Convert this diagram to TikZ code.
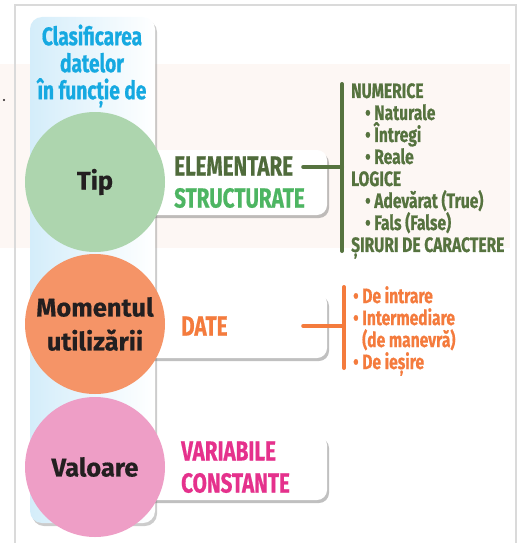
\documentclass[tikz,border=0pt]{standalone}
\usepackage{fontspec}
\setmainfont{Fira Sans}[FakeBold=0.5]
\newfontfamily\cond{Fira Sans}[FakeStretch=0.75, FakeBold=0.6]
\usetikzlibrary{shadows}
\definecolor{cyanT}{HTML}{16A9E1}
\definecolor{greenC}{HTML}{ADD5AE}
\definecolor{orangeC}{HTML}{F59467}
\definecolor{pinkC}{HTML}{EE9EC6}
\definecolor{darkT}{HTML}{231F20}
\definecolor{olive}{HTML}{4F6B3B}
\definecolor{greenT}{HTML}{4DB562}
\definecolor{greenL}{HTML}{56733F}
\definecolor{orangeT}{HTML}{F47B3D}
\definecolor{magT}{HTML}{E5318C}
\definecolor{blueL}{HTML}{D4EDFA}
\definecolor{bandC}{HTML}{FDF7F4}
\definecolor{frameC}{HTML}{DADADA}
\tikzset{
  circ/.style={circle, minimum size=140pt, inner sep=0pt, align=center,
    font=\bfseries\fontsize{25.5}{34}\selectfont, text=darkT},
  boxx/.style={draw=none, fill=white, rounded corners=10pt, minimum width=197pt,
    minimum height=65pt, inner sep=0pt,
    drop shadow={shadow xshift=2pt, shadow yshift=-3pt, opacity=0.45, fill=black!55}},
  boxtxt/.style={anchor=west, align=left, inner sep=0pt,
    font=\cond\bfseries\fontsize{27.5}{32}\selectfont},
  listtxt/.style={anchor=north west, align=left, inner sep=0pt,
    font=\cond\bfseries\fontsize{20.8}{22}\selectfont},
  bar/.style={line width=4pt, line cap=round},
}
\begin{document}
\begin{tikzpicture}[x=1pt,y=-1pt]
\useasboundingbox (0,0) rectangle (521,543);
% background band and frame
\fill[bandC] (0,64) rectangle (510,248);
\draw[frameC, line width=1.6pt] (15,545) -- (15,5) -- (516,5) -- (516,545);
\fill[darkT] (4,100) circle (1.2pt);
% blue column
\shade[left color=blueL, right color=white, rounded corners=12pt,
  drop shadow={shadow xshift=2pt, shadow yshift=-3pt, opacity=0.4, fill=black!50}]
  (30,17) rectangle (155,523);
\node[text=cyanT, align=center, font=\cond\bfseries\fontsize{25.5}{27}\selectfont, inner sep=0pt]
  (title) at (92,66) {Clasificarea\\datelor\\în funcție de};
% boxes
\node[boxx] (b1) at (228.5,182.5) {};
\node[boxx] (b2) at (228.5,325.5) {};
\node[boxx] (b3) at (228.5,467.5) {};
% circles
\node[circ, fill=greenC] (tip) at (95,182) {Tip};
\node[circ, fill=orangeC] (mom) at (95,324) {Momentul\\utilizării};
\node[circ, fill=pinkC] (val) at (95,467) {Valoare};
% box texts
\node[boxtxt, text=olive] (elem) at (174,166) {ELEMENTARE};
\node[boxtxt, text=greenT] (struct) at (174,198) {STRUCTURATE};
\node[boxtxt, text=orangeT] (date) at (181,326) {DATE};
\node[boxtxt, text=magT] (var) at (181,451) {VARIABILE};
\node[boxtxt, text=magT] (cons) at (181,483) {CONSTANTE};
% green connector and list
\coordinate (g1top) at (342,84);
\coordinate (g1bot) at (342,251);
\coordinate (g1mid) at (342,167);
\draw[bar, greenL] (g1top) -- (g1bot);
\draw[bar, greenL] ([xshift=-24pt,yshift=15.5pt]b1.east) -- (g1mid);
\node[listtxt, text=greenL] (glist) at (351,83) {NUMERICE\\
\hspace{14pt}• Naturale\\
\hspace{14pt}• Întregi\\
\hspace{14pt}• Reale\\
LOGICE\\
\hspace{14pt}• Adevărat (True)\\
\hspace{14pt}• Fals (False)\\
ȘIRURI DE CARACTERE};
% orange connector and list
\coordinate (o1top) at (344,287);
\coordinate (o1bot) at (344,368);
\coordinate (o1mid) at (344,326);
\draw[bar, orangeT] (o1top) -- (o1bot);
\draw[bar, orangeT] ([xshift=-24pt,yshift=-0.5pt]b2.east) -- (o1mid);
\node[listtxt, text=orangeT] (olist) at (353,286) {• De intrare\\
• Intermediare\\
\hspace{9pt}(de manevră)\\
• De ieșire};
\end{tikzpicture}
\end{document}
